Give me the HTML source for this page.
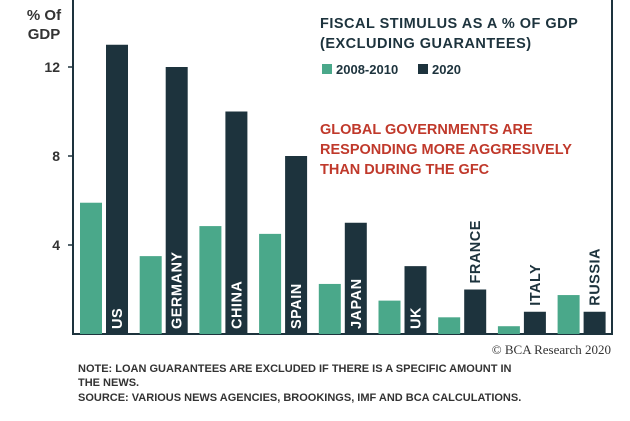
<!DOCTYPE html>
<html><head><meta charset="utf-8"><style>
body{margin:0;background:#fff;width:630px;height:416px;overflow:hidden;font-family:"Liberation Sans",sans-serif}
svg text{font-family:"Liberation Sans",sans-serif;font-weight:bold}
</style></head><body>
<svg width="630" height="416" viewBox="0 0 630 416">
<g id="plot"></g>
<text x="44" y="20" text-anchor="middle" font-size="15" fill="#333">% Of</text>
<text x="44" y="39" text-anchor="middle" font-size="15" fill="#333">GDP</text>
<text x="320" y="28" font-size="14.5" fill="#1d333d" letter-spacing="0.5">FISCAL STIMULUS AS A % OF GDP</text>
<text x="320" y="48" font-size="14.5" fill="#1d333d" letter-spacing="0.5">(EXCLUDING GUARANTEES)</text>
<rect x="322" y="64" width="10" height="10" fill="#4aa88a"/>
<text x="336" y="74" font-size="13" fill="#1d333d">2008-2010</text>
<rect x="418" y="64" width="10" height="10" fill="#1d333d"/>
<text x="432" y="74" font-size="13" fill="#1d333d">2020</text>
<text font-size="14.5" fill="#c0392b"><tspan x="320" y="134">GLOBAL GOVERNMENTS ARE</tspan><tspan x="320" y="154">RESPONDING MORE AGGRESIVELY</tspan><tspan x="320" y="174">THAN DURING THE GFC</tspan></text>
<text x="611" y="354" text-anchor="end" font-size="13" font-weight="normal" style="font-family:'Liberation Serif',serif;font-weight:normal" fill="#333">© BCA Research 2020</text>
<text font-size="11" fill="#333"><tspan x="78" y="372">NOTE:  LOAN GUARANTEES ARE EXCLUDED  IF THERE IS A SPECIFIC AMOUNT  IN</tspan><tspan x="78" y="386">THE NEWS.</tspan><tspan x="78" y="401">SOURCE:  VARIOUS NEWS AGENCIES, BROOKINGS, IMF AND BCA CALCULATIONS.</tspan></text>
</svg>
<script>
const categories=["US","GERMANY","CHINA","SPAIN","JAPAN","UK","FRANCE","ITALY","RUSSIA"];
const gfc=[5.9,3.5,4.85,4.5,2.25,1.5,0.75,0.35,1.75];
const covid=[13.0,12.0,10.0,8.0,5.0,3.05,2.0,1.0,1.0];
const yTicks=[4,8,12];
const labelInside=[true,true,true,true,true,true,false,false,false];
const NS="http://www.w3.org/2000/svg";
const g=document.getElementById("plot");
const x0=73,x1=612,yBase=334,pxPerUnit=22.25,step=59.7,bw=22;
const y=v=>yBase-v*pxPerUnit;
const gx=i=>x0+7+i*step;
function mk(t,a){const e=document.createElementNS(NS,t);for(const k in a)e.setAttribute(k,a[k]);g.appendChild(e);return e;}
const frame=mk("path",{d:`M${x0} 0 V${yBase} H${x1} V0`,fill:"none",stroke:"#1d333d","stroke-width":2});


yTicks.forEach(v=>{
 const t=mk("line",{x1:x0-5,x2:x0,y1:y(v),y2:y(v),stroke:"#1d333d","stroke-width":1.5});
 
 
 const l=mk("text",{x:x0-13,y:y(v)+5,"text-anchor":"end","font-size":14,fill:"#333"});
 l.textContent=v;
 
 
});
categories.forEach((c,i)=>{
 const a=mk("rect",{x:gx(i),y:y(gfc[i]),width:bw,height:gfc[i]*pxPerUnit,fill:"#4aa88a"});
 
 
 const bx=gx(i)+bw+4;
 const b=mk("rect",{x:bx,y:y(covid[i]),width:bw,height:covid[i]*pxPerUnit,fill:"#1d333d"});
 
 
 const cx=bx+bw/2+5;
 const ly=labelInside[i]?yBase-5:y(covid[i])-6;
 const t=mk("text",{x:cx,y:ly,transform:`rotate(-90 ${cx} ${ly})`,"font-size":14.5,fill:labelInside[i]?"#fff":"#1d333d","letter-spacing":"0.5"});
 t.textContent=c;
 
 
});
</script>
</body></html>
